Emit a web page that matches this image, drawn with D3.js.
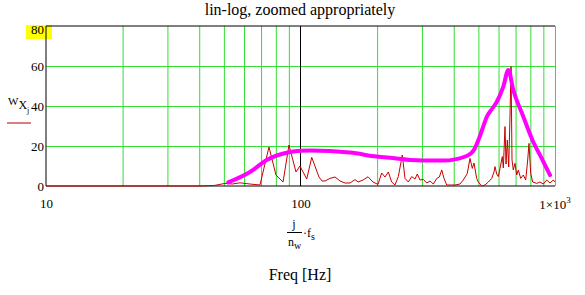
<!DOCTYPE html>
<html>
<head>
<meta charset="utf-8">
<script src="https://cdn.jsdelivr.net/npm/d3@7"></script>
<style>
  body { margin: 0; background: #fff; }
  svg { display: block; font-family: "Liberation Serif", "Times New Roman", serif; }
  .grid line { stroke: #33dd33; stroke-width: 1; }
  .grid path { display: none; }
  .ticks path, .ticks line { display: none; }
  .ticks text { font-size: 13px; fill: #000; font-family: "Liberation Serif", serif; }
</style>
</head>
<body>
<svg id="chart" width="585" height="295"></svg>
<script>
// spectrum W_X (dark red)
const redFreq = [10, 40, 46, 50.5, 54, 57.8, 63.3, 69.3, 75.2, 80.1, 85.4, 90.1, 96, 99.5, 105.8, 110.7,
  118.2, 121.5, 124.8, 130.6, 136.7, 143, 149.6, 156.5, 163.8, 168.3, 176.1, 184.2, 192.7, 201.6,
  208.4, 214.8, 221.3, 228.2, 235.1, 242.3, 251.2, 257.4, 265.2, 273.5, 281.8, 287.7, 294.8, 303.8,
  313.3, 322.8, 332.6, 343, 351.2, 358.9, 366.4, 375.4, 386.8, 404.6, 423.4, 436.3, 452.3, 463.4,
  473.2, 480.5, 492.4, 499.5, 515.2, 530.9, 547, 564.1, 575.9, 581.1, 590.2, 598.8, 608.1, 620.9,
  626.6, 636.2, 642, 649.6, 657.9, 665.7, 671.8, 677.8, 685.8, 696.4, 707.2, 717.5, 733.2, 750.6,
  767.2, 781.1, 790.3, 802.6, 817.3, 847.3, 873, 899.5, 927.6, 955.8, 984.7, 1000];
const redVal = [0, 0, 0.3, 1.3, 1.0, 1.6, 1.0, 0.5, 19.5, 5.5, 2, 20.5, 7, 10, 3.5, 14.3,
  4.5, 2.5, 2.5, 3.8, 4.5, 2.5, 1.5, 1.5, 3.2, 2, 3, 4.6, 2, 0.8,
  6.5, 4.5, 7, 2, 0.5, 4.7, 15.5, 3.8, 2, 4.7, 3.5, 6, 3, 3.3,
  1.5, 2.5, 1, 3.8, 4.5, 8, 3.8, 0.5, 0.5, 0.5, 1, 3, 6.3, 13.8,
  8.8, 11.5, 3.8, 2, 0, 0.5, 2, 3.8, 7, 9.7, 6, 4.7, 8.8, 14.7,
  9, 29.7, 11, 23, 9.5, 35.5, 59.7, 13, 8, 11.3, 5.5, 8, 3.8, 5.5,
  3, 13, 21.3, 6.3, 2, 1.3, 2, 1, 3, 1.5, 3, 2];

// smoothed envelope (magenta)
const magFreq = [52, 63.3, 73.7, 90.9, 100, 109, 156.5, 199.3, 238.8, 269.4, 343, 364, 449.8, 480,
  500, 520, 539, 565, 590, 626.6, 655.5, 685.8, 750.6, 821.7, 886.7, 955.8];
const magVal = [1.8, 7, 13, 17, 17.6, 17.7, 16.7, 14.7, 13.8, 13, 12.7, 12.7, 15, 18,
  23, 29, 34.5, 38.5, 42, 49.7, 58, 48, 34.7, 22, 13.8, 5.5];

const yTicks = [0, 20, 40, 60, 80];
const xTicks = [10, 100, 1000];
const xGrid = [20, 30, 40, 50, 60, 70, 80, 90, 200, 300, 400, 500, 600, 700, 800, 900, 1000];
const yGrid = [20, 40, 60];

const svg = d3.select("#chart");
const pLeft = 46, pRight = 555, pTop = 26, pBottom = 186;

const x = d3.scaleLog().domain([10, 1000]).range([pLeft, pRight]);
const y = d3.scaleLinear().domain([0, 80]).range([pBottom, pTop]);

// grid
svg.append("g").attr("class", "grid")
  .attr("transform", `translate(0,${pBottom})`)
  .call(d3.axisBottom(x).tickValues(xGrid).tickSize(-(pBottom - pTop)).tickFormat(""));
svg.append("g").attr("class", "grid")
  .attr("transform", `translate(${pLeft},0)`)
  .call(d3.axisLeft(y).tickValues(yGrid).tickSize(-(pRight - pLeft)).tickFormat(""));

// frame + 100 line
svg.append("line").attr("x1", pLeft).attr("x2", pRight).attr("y1", pTop).attr("y2", pTop).attr("stroke", "#000");
svg.append("line").attr("x1", pLeft).attr("x2", pRight).attr("y1", pBottom).attr("y2", pBottom).attr("stroke", "#000");
svg.append("line").attr("x1", pLeft).attr("x2", pLeft).attr("y1", pTop).attr("y2", pBottom).attr("stroke", "#000");
svg.append("line").attr("x1", x(100)).attr("x2", x(100)).attr("y1", pTop).attr("y2", pBottom).attr("stroke", "#000");

// yellow highlight behind top label
svg.insert("rect", ":first-child").attr("x", 26).attr("y", y(80) - 1).attr("width", 26).attr("height", 14).attr("fill", "#ffff00");

// y tick labels
svg.append("g").attr("class", "ticks")
  .attr("transform", `translate(${pLeft},0)`)
  .call(d3.axisLeft(y).tickValues(yTicks).tickSize(0).tickPadding(2).tickFormat(d3.format("d")))
  .selectAll("text").attr("dy", d => d === 80 ? "0.55em" : "0.32em");

// x tick labels
svg.append("g").attr("class", "ticks")
  .attr("transform", `translate(0,${pBottom})`)
  .call(d3.axisBottom(x).tickValues(xTicks).tickSize(0).tickPadding(13).tickFormat(d => d === 1000 ? "" : d));
const t1000 = svg.append("text").attr("x", x(1000)).attr("y", 209)
  .attr("text-anchor", "middle").attr("font-size", 13);
t1000.append("tspan").text("1×10");
t1000.append("tspan").attr("dy", -6).attr("font-size", 9).text("3");

// data
svg.append("defs").append("clipPath").attr("id", "clip")
  .append("rect").attr("x", pLeft).attr("y", pTop - 5).attr("width", pRight - pLeft).attr("height", pBottom - pTop + 6);

const red = redFreq.map((f, i) => [f, redVal[i]]);
const mag = magFreq.map((f, i) => [f, magVal[i]]);

svg.append("path").datum(red)
  .attr("clip-path", "url(#clip)")
  .attr("fill", "none").attr("stroke", "#c80000").attr("stroke-width", 1)
  .attr("d", d3.line().x(d => x(d[0])).y(d => y(d[1])));

svg.append("path").datum(mag)
  .attr("fill", "none").attr("stroke", "#ff00ff").attr("stroke-width", 4)
  .attr("stroke-linejoin", "round").attr("stroke-linecap", "round")
  .attr("d", d3.line().curve(d3.curveMonotoneX).x(d => x(d[0])).y(d => y(d[1])));

// title
svg.append("text").attr("x", 300).attr("y", 15).attr("text-anchor", "middle")
  .attr("font-size", 16).text("lin-log, zoomed appropriately");

// y axis label W_X_j
const yl = svg.append("text").attr("x", 8).attr("y", 105).attr("font-size", 11);
yl.append("tspan").text("W");
yl.append("tspan").attr("dy", 4).attr("font-size", 12).text("X");
yl.append("tspan").attr("dy", 4).attr("font-size", 8).text("j");
svg.append("line").attr("x1", 7).attr("x2", 31).attr("y1", 123).attr("y2", 123)
  .attr("stroke", "#b00000").attr("stroke-width", 1);

// x axis expression j/n_w · f_s
svg.append("text").attr("x", 294).attr("y", 228).attr("text-anchor", "middle").attr("font-size", 12).text("j");
svg.append("line").attr("x1", 287).attr("x2", 302).attr("y1", 232.5).attr("y2", 232.5).attr("stroke", "#000");
const nw = svg.append("text").attr("x", 288).attr("y", 246).attr("font-size", 12);
nw.append("tspan").text("n");
nw.append("tspan").attr("dy", 3).attr("font-size", 10).text("w");
const fs = svg.append("text").attr("x", 303).attr("y", 237).attr("font-size", 12);
fs.append("tspan").text("·f");
fs.append("tspan").attr("dy", 3).attr("font-size", 10).text("s");

svg.append("text").attr("x", 300).attr("y", 280).attr("text-anchor", "middle")
  .attr("font-size", 16).text("Freq [Hz]");
</script>
</body>
</html>
